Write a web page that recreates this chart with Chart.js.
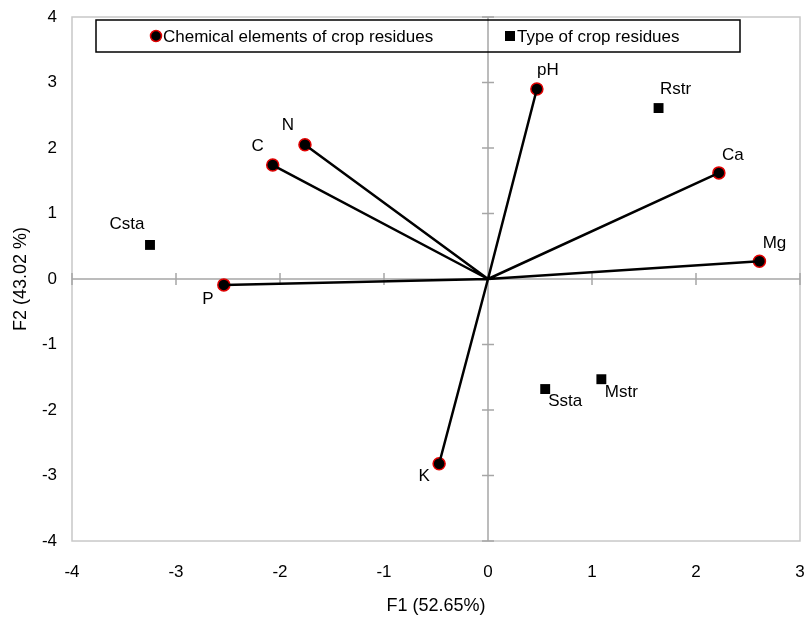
<!DOCTYPE html>
<html>
<head>
<meta charset="utf-8">
<script src="https://cdn.jsdelivr.net/npm/chart.js@4"></script>
<style>
  body { margin: 0; background: #fff; }
  #wrap { width: 808px; height: 621px; }
</style>
</head>
<body>
<div id="wrap"><canvas id="biplot" width="808" height="621"></canvas></div>
<script>
// chemical elements (vectors from origin)
const elementLabels = ['pH', 'Ca', 'Mg', 'N', 'C', 'P', 'K'];
const elementF1 = [0.47, 2.22, 2.61, -1.76, -2.07, -2.54, -0.47];
const elementF2 = [2.90, 1.62, 0.27, 2.05, 1.74, -0.09, -2.82];

// crop residue types
const typeLabels = ['Rstr', 'Csta', 'Ssta', 'Mstr'];
const typeF1 = [1.64, -3.25, 0.55, 1.09];
const typeF2 = [2.61, 0.52, -1.68, -1.53];

const xTicks = [-4, -3, -2, -1, 0, 1, 2, 3];
const yTicks = [-4, -3, -2, -1, 0, 1, 2, 3, 4];

const seriesNames = ['Chemical elements of crop residues', 'Type of crop residues'];

// where each label sits relative to its point (px)
const labelOffset = {
  pH: [11, -19], Ca: [14, -18], Mg: [15, -18], N: [-17, -19], C: [-15, -19],
  P: [-16, 14], K: [-15, 13], Rstr: [17, -19], Csta: [-23, -21],
  Ssta: [20, 12], Mstr: [20, 13]
};

const FONT = '"Liberation Sans", Arial, sans-serif';

const elementPts = elementLabels.map((l, i) => ({ x: elementF1[i], y: elementF2[i], label: l }));
const typePts = typeLabels.map((l, i) => ({ x: typeF1[i], y: typeF2[i], label: l }));

// origin -> point segments, broken by gaps
const vectorPts = [];
elementPts.forEach(p => {
  vectorPts.push({ x: 0, y: 0 }, { x: p.x, y: p.y }, { x: NaN, y: NaN });
});

const framePlugin = {
  id: 'frame',
  beforeDatasetsDraw(chart) {
    const { ctx, chartArea: a, scales: { x, y } } = chart;
    ctx.save();
    // outer frame
    ctx.strokeStyle = '#c8c8c8';
    ctx.lineWidth = 1.5;
    ctx.strokeRect(a.left, a.top, a.right - a.left, a.bottom - a.top);
    // zero axes
    const x0 = x.getPixelForValue(0), y0 = y.getPixelForValue(0);
    ctx.strokeStyle = '#a6a6a6';
    ctx.lineWidth = 1.5;
    ctx.beginPath();
    ctx.moveTo(a.left, y0); ctx.lineTo(a.right, y0);
    ctx.moveTo(x0, a.top); ctx.lineTo(x0, a.bottom);
    xTicks.forEach(v => {
      const px = x.getPixelForValue(v);
      ctx.moveTo(px, y0 - 6); ctx.lineTo(px, y0 + 6);
    });
    yTicks.forEach(v => {
      const py = y.getPixelForValue(v);
      ctx.moveTo(x0 - 6, py); ctx.lineTo(x0 + 6, py);
    });
    ctx.stroke();
    ctx.restore();
  },
  afterDraw(chart) {
    const { ctx } = chart;
    ctx.save();
    // point labels
    ctx.font = '17px ' + FONT;
    ctx.fillStyle = '#000';
    ctx.textAlign = 'center';
    ctx.textBaseline = 'middle';
    [1, 2].forEach(di => {
      const meta = chart.getDatasetMeta(di);
      meta.data.forEach((el, i) => {
        const lab = chart.data.datasets[di].data[i].label;
        const off = labelOffset[lab] || [0, -16];
        ctx.fillText(lab, el.x + off[0], el.y + off[1]);
      });
    });
    // legend box
    ctx.strokeStyle = '#000';
    ctx.lineWidth = 1.5;
    ctx.strokeRect(96, 20, 644, 32);
    ctx.textAlign = 'left';
    ctx.beginPath();
    ctx.arc(156, 36, 5.5, 0, Math.PI * 2);
    ctx.fillStyle = '#000';
    ctx.fill();
    ctx.strokeStyle = '#e00000';
    ctx.lineWidth = 1.5;
    ctx.stroke();
    ctx.fillStyle = '#000';
    ctx.fillText(seriesNames[0], 163, 37);
    ctx.fillRect(505, 31, 10, 10);
    ctx.fillText(seriesNames[1], 517, 37);
    ctx.restore();
  }
};

new Chart(document.getElementById('biplot'), {
  type: 'scatter',
  data: {
    datasets: [
      {
        label: 'vectors',
        data: vectorPts,
        showLine: true,
        spanGaps: false,
        borderColor: '#000',
        borderWidth: 2.5,
        pointRadius: 0,
        pointHoverRadius: 0
      },
      {
        label: seriesNames[0],
        data: elementPts,
        pointStyle: 'circle',
        pointRadius: 6,
        pointBackgroundColor: '#000',
        pointBorderColor: '#e00000',
        pointBorderWidth: 1.5
      },
      {
        label: seriesNames[1],
        data: typePts,
        pointStyle: 'rect',
        pointRadius: 7,
        pointBackgroundColor: '#000',
        pointBorderColor: '#000',
        pointBorderWidth: 0
      }
    ]
  },
  options: {
    responsive: false,
    animation: false,
    layout: { padding: { top: 17, right: 8, left: 0, bottom: 0 } },
    plugins: {
      legend: { display: false },
      tooltip: { enabled: false }
    },
    scales: {
      x: {
        type: 'linear',
        min: -4, max: 3,
        grid: { display: false },
        border: { display: false },
        afterBuildTicks: s => { s.ticks = xTicks.map(v => ({ value: v })); },
        afterFit: s => { s.height = 80; s.paddingLeft = 0; s.paddingRight = 0; },
        ticks: { color: '#000', padding: 13, font: { family: FONT, size: 17 } },
        title: {
          display: true, text: 'F1 (52.65%)', color: '#000',
          font: { family: FONT, size: 18 }, padding: { top: 4, bottom: 4 }
        }
      },
      y: {
        type: 'linear',
        min: -4, max: 4,
        grid: { display: false },
        border: { display: false },
        afterBuildTicks: s => { s.ticks = yTicks.map(v => ({ value: v })); },
        afterFit: s => { s.width = 72; s.paddingTop = 0; s.paddingBottom = 0; },
        ticks: { color: '#000', padding: 7, font: { family: FONT, size: 17 } },
        title: {
          display: true, text: 'F2 (43.02 %)', color: '#000',
          font: { family: FONT, size: 18 }, padding: { top: 10, bottom: 4 }
        }
      }
    }
  },
  plugins: [framePlugin]
});
</script>
</body>
</html>
